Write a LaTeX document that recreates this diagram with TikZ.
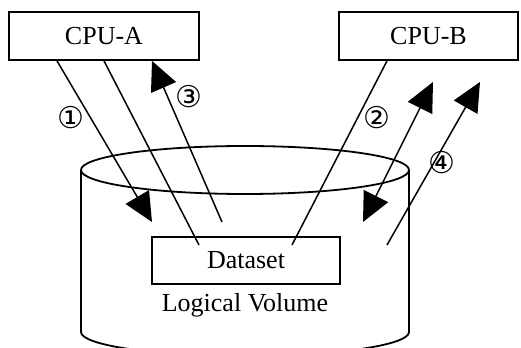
\documentclass[tikz,border=0pt]{standalone}
\usepackage{fontspec}
\setmainfont{Liberation Serif}
\newfontfamily\circfont{DejaVu Sans}
\usepackage{tikz}
\usetikzlibrary{arrows.meta,positioning}
\tikzset{
  cpubox/.style={draw=black,fill=white,line width=0.9pt,minimum height=24pt,
                 inner sep=0pt,font=\fontsize{13}{15}\selectfont},
  lvtext/.style={inner sep=0pt,font=\fontsize{13}{15}\selectfont},
  stepnum/.style={inner sep=0pt,font=\circfont\fontsize{15}{16}\selectfont},
  link/.style={line width=0.75pt,draw=black},
  bigarr/.style={-{Triangle[length=14.5pt,width=13.5pt]},line width=0.75pt,draw=black},
  twoarr/.style={{Triangle[length=14.5pt,width=13.5pt]}-{Triangle[length=14.5pt,width=13.5pt]},
                 line width=0.75pt,draw=black}
}
\begin{document}
\begin{tikzpicture}[x=0.5pt,y=0.5pt]
    \path[use as bounding box] (0,0) rectangle (521,348);

    % logical volume cylinder
    \draw[line width=0.9pt] (245,178) ellipse [x radius=164,y radius=24];
    \draw[line width=0.9pt] (81,178) -- (81,16)
      arc[start angle=180,end angle=360,x radius=164,y radius=24] -- (409,178);

    \node[cpubox,minimum width=95pt] (cpua) at (104,312) {CPU-A};
    \node[cpubox,minimum width=89.5pt] (cpub) at (428.5,312) {CPU-B};
    \node[cpubox,minimum width=94pt,minimum height=23.5pt] (ds) at (246,87.5) {Dataset};
    \node[lvtext] (lv) at (245,43) {Logical Volume};

    \coordinate (in1) at (152,126);
    \coordinate (in3) at (222,126);
    \coordinate (in2) at (363,126);
    \coordinate (out2) at (433,266);
    \coordinate (in4) at (387,103);
    \coordinate (out4) at (480,266);
    \coordinate (dsa) at (199,103);
    \coordinate (dsb) at (292,103);

    \draw[bigarr] ([xshift=-23.5pt]cpua.south) -- (in1);
    \draw[link] (cpua.south) -- (dsa);
    \draw[bigarr] (in3) -- ([xshift=24pt]cpua.south);
    \draw[link] ([xshift=-20.75pt]cpub.south) -- (dsb);
    \draw[twoarr] (in2) -- (out2);
    \draw[bigarr] (in4) -- (out4);

    \node[stepnum] (n1) at (71,230) {①};
    \node[stepnum] (n3) at (189,251) {③};
    \node[stepnum] (n2) at (377,230) {②};
    \node[stepnum] (n4) at (442,185) {④};
  \end{tikzpicture}
\end{document}
